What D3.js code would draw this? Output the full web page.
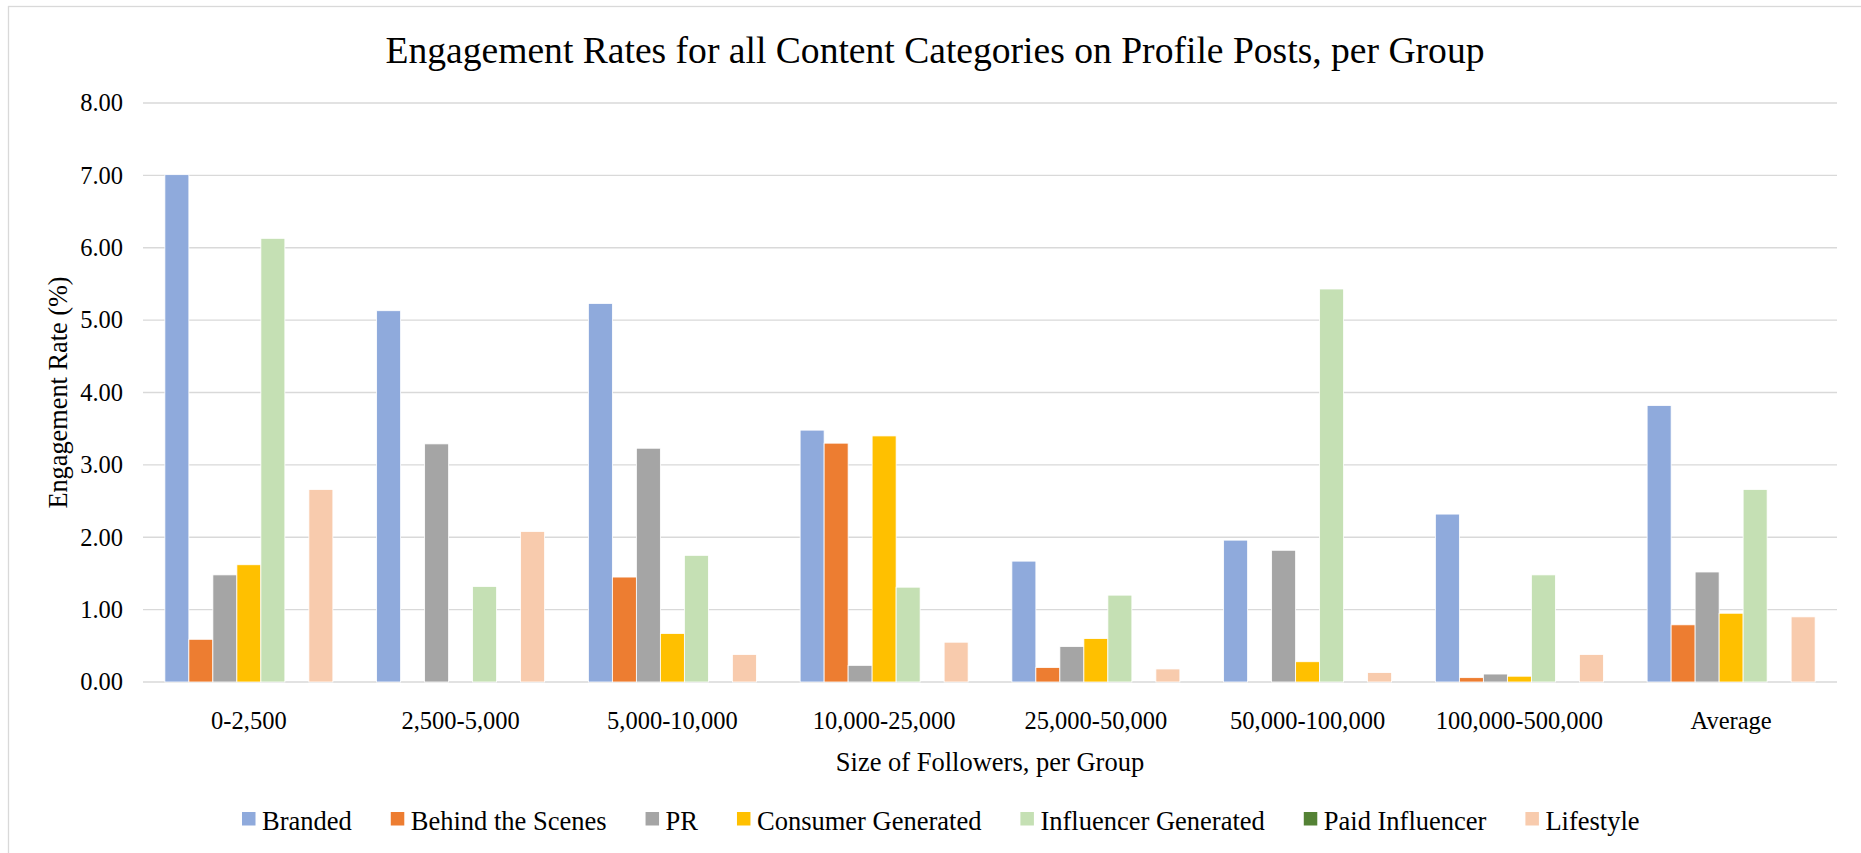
<!doctype html>
<html>
  <head>
    <meta charset="utf8">
    <script src="https://d3js.org/d3.v7.min.js"></script>
    <style type="text/css">
      body { margin: 0; background: #fff; }
    </style>
  </head>
  <body>
    <script type="text/javascript">
      const w = 1861;
      const h = 853;
      const serif = "'Liberation Serif'";

      // groups along the x axis
      const groups = ['0-2,500', '2,500-5,000', '5,000-10,000', '10,000-25,000',
        '25,000-50,000', '50,000-100,000', '100,000-500,000', 'Average'];

      const seriesNames = ['Branded', 'Behind the Scenes', 'PR', 'Consumer Generated',
        'Influencer Generated', 'Paid Influencer', 'Lifestyle'];

      // values, one per group
      const branded     = [7.01, 5.13, 5.23, 3.48, 1.67, 1.96, 2.32, 3.82];
      const behind      = [0.59, 0.00, 1.45, 3.30, 0.20, 0.00, 0.06, 0.79];
      const pr          = [1.48, 3.29, 3.23, 0.23, 0.49, 1.82, 0.11, 1.52];
      const consumer    = [1.62, 0.00, 0.67, 3.40, 0.60, 0.28, 0.08, 0.95];
      const influencer  = [6.13, 1.32, 1.75, 1.31, 1.20, 5.43, 1.48, 2.66];
      const paid        = [0, 0, 0, 0, 0, 0, 0, 0];
      const lifestyle   = [2.66, 2.08, 0.38, 0.55, 0.18, 0.13, 0.38, 0.90];

      const yTicks = [0, 1, 2, 3, 4, 5, 6, 7, 8];

      const colors = ['#8FAADC', '#ED7D31', '#A5A5A5', '#FFC000', '#C5E0B4', '#548235', '#F8CBAD'];

      const allSeries = [branded, behind, pr, consumer, influencer, paid, lifestyle];

      const plotLeft = 143, plotRight = 1837, plotTop = 103, plotBottom = 682;

      const svg = d3.select('body')
        .append('svg')
        .attr('width', w)
        .attr('height', h);

      // chart border (only left/top fall inside the picture)
      svg.append('rect')
        .attr('x', 8.5).attr('y', 6.5)
        .attr('width', 1900).attr('height', 900)
        .attr('fill', 'none')
        .attr('stroke', '#D9D9D9')
        .attr('stroke-width', 1.3);

      const x0 = d3.scaleBand()
        .domain(groups)
        .range([plotLeft, plotRight])
        .paddingInner(0.2066)
        .paddingOuter(0.1033);

      const x1 = d3.scaleBand()
        .domain(d3.range(seriesNames.length))
        .range([0, x0.bandwidth()]);

      const y = d3.scaleLinear()
        .domain([0, 8])
        .range([plotBottom, plotTop]);

      // gridlines
      svg.append('g')
        .selectAll('line')
        .data(yTicks)
        .enter()
        .append('line')
        .attr('x1', plotLeft)
        .attr('x2', plotRight)
        .attr('y1', (d) => y(d))
        .attr('y2', (d) => y(d))
        .attr('stroke', '#D9D9D9')
        .attr('stroke-width', 1.4);

      // y tick labels
      svg.append('g')
        .selectAll('text')
        .data(yTicks)
        .enter()
        .append('text')
        .attr('x', 123)
        .attr('y', (d) => y(d))
        .attr('dy', '0.34em')
        .attr('text-anchor', 'end')
        .style('font-family', serif)
        .attr('font-size', '24.5px')
        .text((d) => d.toFixed(2));

      // bars
      const gBars = svg.append('g')
        .selectAll('g')
        .data(groups)
        .enter()
        .append('g')
        .attr('transform', (d) => 'translate(' + x0(d) + ',0)');

      gBars.selectAll('rect')
        .data((d, i) => allSeries.map((s, k) => ({ k: k, v: s[i] })))
        .enter()
        .append('rect')
        .attr('x', (d) => x1(d.k))
        .attr('width', x1.bandwidth())
        .attr('y', (d) => y(d.v))
        .attr('height', (d) => y(0) - y(d.v))
        .attr('fill', (d) => colors[d.k])
        .attr('stroke', (d) => d.v > 0 ? '#fff' : 'none')
        .attr('stroke-width', 0.8);

      // x labels
      svg.append('g')
        .selectAll('text')
        .data(groups)
        .enter()
        .append('text')
        .attr('x', (d) => x0(d) + x0.bandwidth() / 2)
        .attr('y', 729)
        .attr('text-anchor', 'middle')
        .style('font-family', serif)
        .attr('font-size', '24.5px')
        .text((d) => d);

      // title
      svg.append('text')
        .attr('x', 935)
        .attr('y', 63)
        .attr('text-anchor', 'middle')
        .style('font-family', serif)
        .attr('font-size', '37.6px')
        .text('Engagement Rates for all Content Categories on Profile Posts, per Group');

      // axis titles
      svg.append('text')
        .attr('x', 990)
        .attr('y', 771)
        .attr('text-anchor', 'middle')
        .style('font-family', serif)
        .attr('font-size', '26.5px')
        .text('Size of Followers, per Group');

      svg.append('text')
        .attr('transform', 'translate(67,' + ((plotTop + plotBottom) / 2) + ') rotate(-90)')
        .attr('text-anchor', 'middle')
        .style('font-family', serif)
        .attr('font-size', '26.3px')
        .text('Engagement Rate (%)');

      // legend
      const legend = svg.append('g');
      let cx = 242;
      seriesNames.forEach((name, k) => {
        legend.append('rect')
          .attr('x', cx).attr('y', 812)
          .attr('width', 13.5).attr('height', 13.5)
          .attr('fill', colors[k]);
        const t = legend.append('text')
          .attr('x', cx + 20)
          .attr('y', 829.5)
          .style('font-family', serif)
          .attr('font-size', '26.5px')
          .text(name);
        cx += 20 + t.node().getComputedTextLength() + 39;
      });
    </script>
  </body>
</html>
